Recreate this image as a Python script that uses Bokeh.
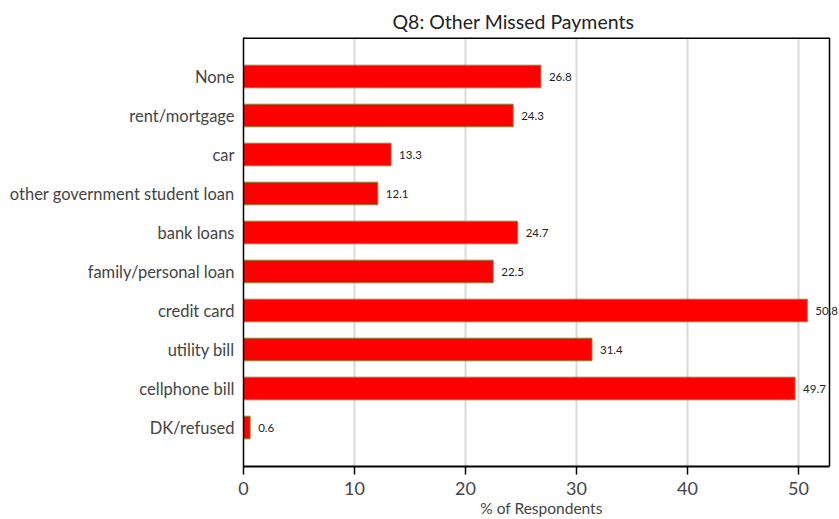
from bokeh.plotting import figure
from bokeh.models import Range1d, FactorRange, ColumnDataSource, FixedTicker, Label, Span
from bokeh.embed import file_html
from bokeh.resources import INLINE

categories = ["None", "rent/mortgage", "car", "other government student loan", "bank loans",
              "family/personal loan", "credit card", "utility bill", "cellphone bill", "DK/refused"]
values = [26.8, 24.3, 13.3, 12.1, 24.7, 22.5, 50.8, 31.4, 49.7, 0.6]
x_ticks = [0, 10, 20, 30, 40, 50]

FONT = "Lato"
X_BORDER = 52.8          # right edge of the drawn frame
X_VIEW_END = 53.7        # room so the "50.8" label is not clipped

src = ColumnDataSource(dict(cat=categories, val=values))
n = len(categories)

p = figure(width=839, height=519, output_backend="svg", toolbar_location=None,
           y_range=FactorRange(factors=categories[::-1], range_padding=0.1),
           x_range=Range1d(0, X_VIEW_END),
           min_border_left=243, min_border_right=0, min_border_top=37, min_border_bottom=10)

p.title.text = "Q8: Other Missed Payments"
p.title.text_font = FONT
p.title.text_font_size = "19.5px"
p.title.text_font_style = "normal"
p.title.align = "left"
p.title.offset = 149
p.title.text_color = "#222222"

p.hbar(y="cat", right="val", left=0, height=0.58, source=src,
       fill_color="#ff0000", line_color="#7a8a3a", line_width=1)

# frame: top and right border lines
y_top = n + 0.5   # upper end of the padded categorical range
p.segment(x0=[0], x1=[X_BORDER], y0=[y_top], y1=[y_top], line_color="black", line_width=3)
p.add_layout(Span(location=X_BORDER, dimension="height", line_color="black", line_width=1.5))

for i, (c, v) in enumerate(zip(categories, values)):
    p.add_layout(Label(x=v, y=n - i - 0.5, text=f"{v:.1f}", x_offset=8,
                       text_font=FONT, text_font_size="11.5px", text_baseline="middle",
                       text_color="#222222"))

p.xaxis.ticker = FixedTicker(ticks=x_ticks)
p.xaxis.bounds = (0, X_BORDER)
p.xaxis.axis_label = "% of Respondents"
p.xaxis.axis_label_text_font = FONT
p.xaxis.axis_label_text_font_size = "15.5px"
p.xaxis.axis_label_text_font_style = "normal"
p.xaxis.axis_label_standoff = 1
p.xaxis.major_label_text_font = FONT
p.xaxis.major_label_text_font_size = "18px"
p.xaxis.major_label_standoff = 7
p.xaxis.major_tick_out = 8
p.xaxis.major_tick_in = 0
p.xaxis.minor_tick_line_color = None
p.xaxis.axis_line_width = 2
p.xaxis.axis_line_color = "black"
p.xaxis.major_tick_line_color = "black"
p.xaxis.major_tick_line_width = 1.5

p.yaxis.major_tick_line_color = None
p.yaxis.minor_tick_line_color = None
p.yaxis.major_label_text_font = FONT
p.yaxis.major_label_text_font_size = "16.5px"
p.yaxis.major_label_standoff = 3
p.yaxis.axis_line_color = "black"
p.yaxis.axis_line_width = 1.5

p.ygrid.grid_line_color = None
p.xgrid.grid_line_color = "#d9d9d9"
p.xgrid.grid_line_width = 2

p.outline_line_color = None
p.background_fill_color = "white"
p.border_fill_color = "white"

open("out.html", "w").write(file_html(p, INLINE))
